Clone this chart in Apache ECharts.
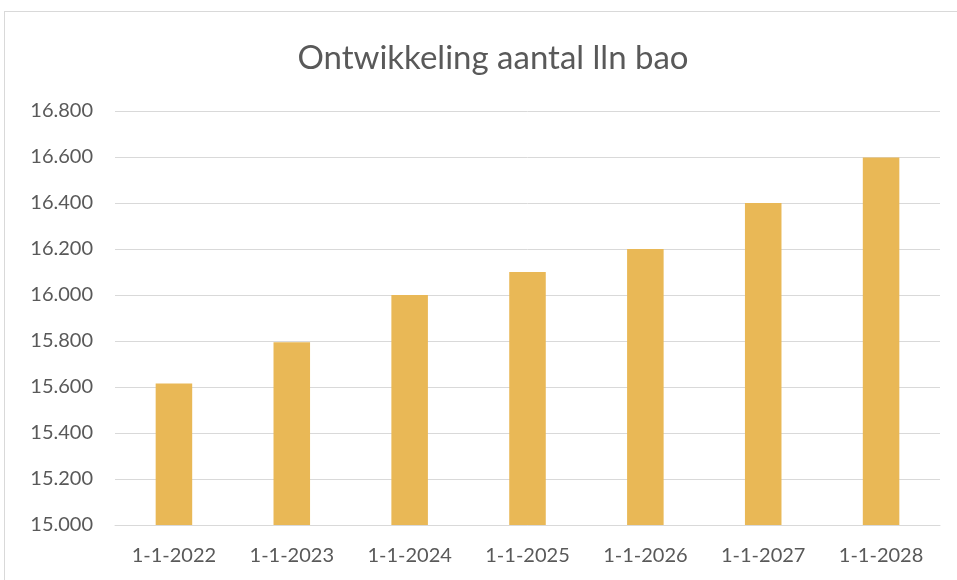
<!DOCTYPE html>
<html>
<head>
<meta charset="utf-8">
<script src="https://cdn.jsdelivr.net/npm/echarts@6/dist/echarts.min.js"></script>
<style>
  html, body { margin: 0; padding: 0; background: #fff; }
  #frame { position: absolute; left: 4px; top: 11px; width: 960px; height: 580px; border: 1px solid #d9d9d9; box-sizing: border-box; }
  #main { position: absolute; left: 0; top: 0; width: 957px; height: 580px; }
</style>
</head>
<body>
<div id="frame"></div>
<div id="main"></div>
<script>
  // gegevens
  const categories = ['1-1-2022', '1-1-2023', '1-1-2024', '1-1-2025', '1-1-2026', '1-1-2027', '1-1-2028']
  const leerlingen = [15615, 15795, 16000, 16100, 16200, 16400, 16598]

  const chart = echarts.init(document.getElementById('main'))
  const fmt = v => String(v / 1000).replace(/^(\d+)\.?(\d*)$/, (m, a, b) => a + '.' + (b + '000').slice(0, 3))

  const option = {
    title: {
      text: 'Ontwikkeling aantal lln bao',
      left: 488,
      textAlign: 'center',
      top: 37,
      textStyle: { fontFamily: 'Lato', fontSize: 33, fontWeight: 'normal', color: '#595959' }
    },
    grid: { left: 115, right: 17, top: 111, bottom: 55 },
    xAxis: {
      type: 'category',
      data: categories,
      axisLine: { lineStyle: { color: '#d9d9d9', width: 1 } },
      axisTick: { show: false },
      axisLabel: { fontFamily: 'Lato', fontSize: 20, color: '#595959', margin: 21 }
    },
    yAxis: {
      type: 'value',
      min: 15000,
      max: 16800,
      interval: 200,
      axisLine: { show: false },
      axisTick: { show: false },
      splitLine: { lineStyle: { color: '#d9d9d9', width: 1 } },
      axisLabel: { fontFamily: 'Lato', fontSize: 20, color: '#595959', margin: 22, formatter: fmt }
    },
    series: [{
      type: 'bar',
      data: leerlingen,
      barWidth: '31%',
      itemStyle: { color: '#E9B856' }
    }]
  }
  chart.setOption(option)
</script>
</body>
</html>
